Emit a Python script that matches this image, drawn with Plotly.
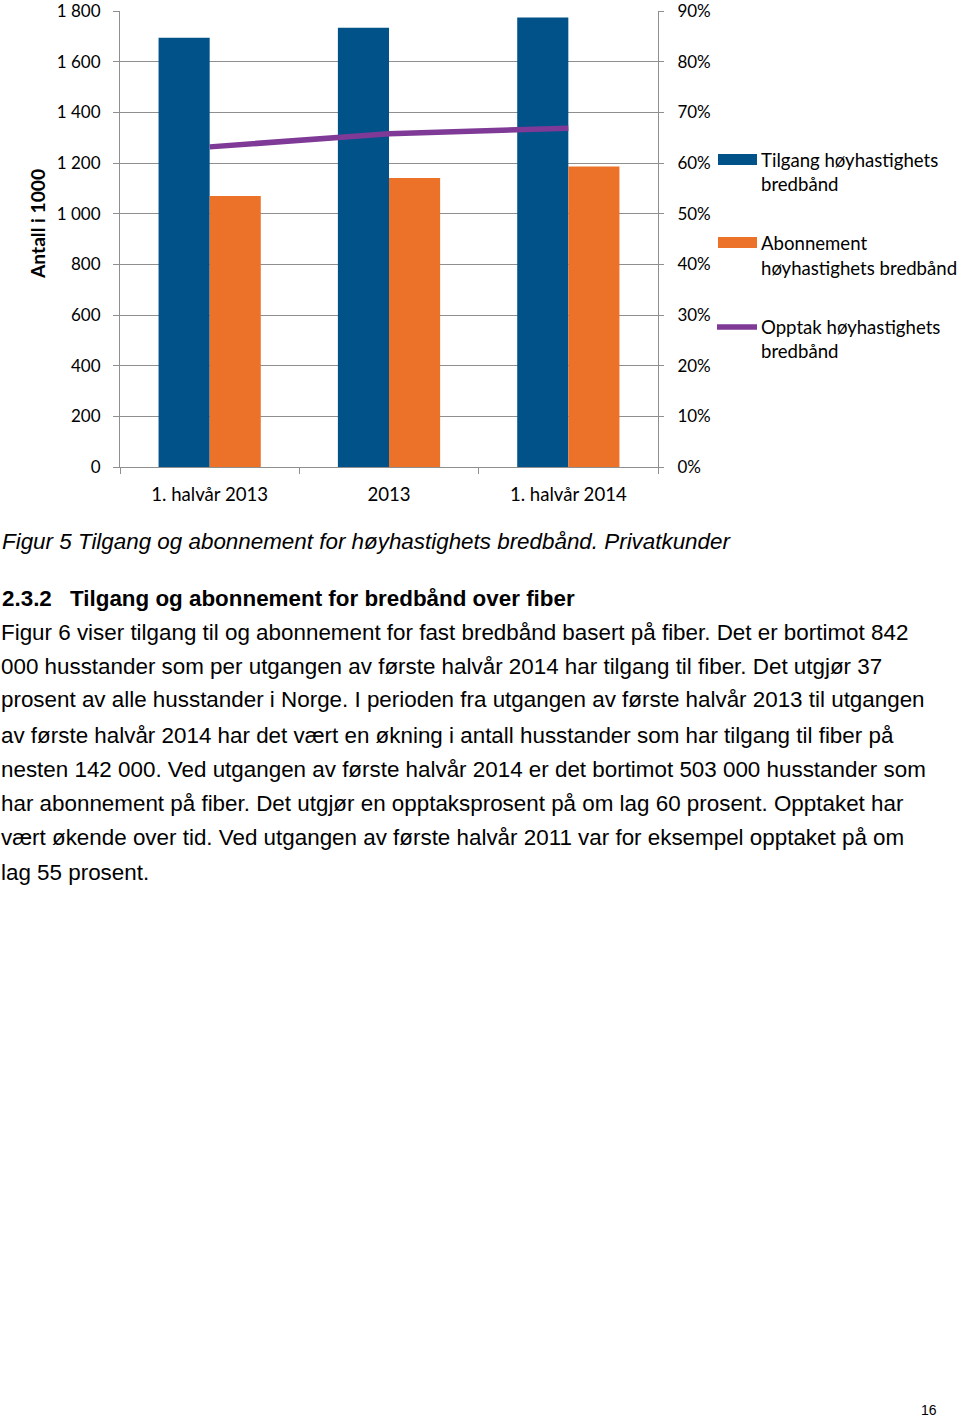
import plotly.graph_objects as go

categories = ["1. halvår 2013", "2013", "1. halvår 2014"]
tilgang = [1695, 1734, 1775]
abonnement = [1070, 1141, 1187]
opptak = [0.632, 0.658, 0.669]

series_names = ["Tilgang høyhastighets bredbånd",
                "Abonnement høyhastighets bredbånd",
                "Opptak høyhastighets bredbånd"]

BLUE = "#005289"
ORANGE = "#EC7229"
PURPLE = "#7E3A96"
GRID = "#8F8F8F"
CHART_FONT = "Lato"
BODY_FONT = "Liberation Sans"
CH = 18.6
TK = 17
BODY = 22.4

W, H = 960, 1420
PX0, PX1 = 120, 658
PY0, PY1 = 11, 467


def px(x):
    return (x - PX0) / (PX1 - PX0)


def py(y):
    return (PY1 - y) / (PY1 - PY0)


fig = go.Figure()
fig.add_trace(go.Bar(x=categories, y=tilgang, name=series_names[0],
                     marker=dict(color=BLUE, line=dict(width=0))))
fig.add_trace(go.Bar(x=categories, y=abonnement, name=series_names[1],
                     marker=dict(color=ORANGE, line=dict(width=0))))
fig.add_trace(go.Scatter(x=categories, y=opptak, name=series_names[2], yaxis="y2",
                         mode="lines", line=dict(color=PURPLE, width=5.5)))

annotations = []

# y-axis title
annotations.append(dict(x=px(38), y=py(224), xref="paper", yref="paper",
                        text="<b>Antall i 1000</b>", textangle=-90, showarrow=False,
                        font=dict(family=CHART_FONT, size=19.2, color="#000000"),
                        xanchor="center", yanchor="middle"))

# legend (manual)
legend_lines = [
    (160, "Tilgang høyhastighets"), (184, "bredbånd"),
    (243, "Abonnement"), (268, "høyhastighets bredbånd"),
    (327, "Opptak høyhastighets"), (351, "bredbånd"),
]
for y, t in legend_lines:
    annotations.append(dict(x=px(759), y=py(y), xref="paper", yref="paper", text=t,
                            showarrow=False, xanchor="left", yanchor="middle",
                            font=dict(family=CHART_FONT, size=CH, color="#000000")))

shapes = [
    dict(type="rect", xref="paper", yref="paper", x0=px(718), x1=px(757), y0=py(165), y1=py(154),
         fillcolor=BLUE, line=dict(width=0)),
    dict(type="rect", xref="paper", yref="paper", x0=px(718), x1=px(757), y0=py(248), y1=py(237),
         fillcolor=ORANGE, line=dict(width=0)),
    dict(type="line", xref="paper", yref="paper", x0=px(717), x1=px(757), y0=py(327), y1=py(327),
         line=dict(color=PURPLE, width=5.5)),
]

# caption
annotations.append(dict(x=px(0), y=py(541), xref="paper", yref="paper",
                        text="<i>Figur 5 Tilgang og abonnement for høyhastighets bredbånd. Privatkunder</i>",
                        showarrow=False, xanchor="left", yanchor="middle",
                        font=dict(family=BODY_FONT, size=BODY, color="#000000")))
# heading
annotations.append(dict(x=px(0), y=py(598), xref="paper", yref="paper", text="<b>2.3.2</b>",
                        showarrow=False, xanchor="left", yanchor="middle",
                        font=dict(family=BODY_FONT, size=BODY, color="#000000")))
annotations.append(dict(x=px(68), y=py(598), xref="paper", yref="paper",
                        text="<b>Tilgang og abonnement for bredbånd over fiber</b>",
                        showarrow=False, xanchor="left", yanchor="middle",
                        font=dict(family=BODY_FONT, size=BODY, color="#000000")))

body = [
    "Figur 6 viser tilgang til og abonnement for fast bredbånd basert på fiber. Det er bortimot 842",
    "000 husstander som per utgangen av første halvår 2014 har tilgang til fiber. Det utgjør 37",
    "prosent av alle husstander i Norge. I perioden fra utgangen av første halvår 2013 til utgangen",
    "av første halvår 2014 har det vært en økning i antall husstander som har tilgang til fiber på",
    "nesten 142 000. Ved utgangen av første halvår 2014 er det bortimot 503 000 husstander som",
    "har abonnement på fiber. Det utgjør en opptaksprosent på om lag 60 prosent. Opptaket har",
    "vært økende over tid. Ved utgangen av første halvår 2011 var for eksempel opptaket på om",
    "lag 55 prosent.",
]
body_y = [632, 666, 700, 735, 769, 803, 837, 872]
for y, t in zip(body_y, body):
    annotations.append(dict(x=px(-1), y=py(y), xref="paper", yref="paper", text=t,
                            showarrow=False, xanchor="left", yanchor="middle",
                            font=dict(family=BODY_FONT, size=BODY, color="#000000")))

annotations.append(dict(x=px(929), y=py(1410), xref="paper", yref="paper", text="16",
                        showarrow=False, xanchor="center", yanchor="middle",
                        font=dict(family=BODY_FONT, size=14, color="#000000")))

fig.update_layout(
    width=W, height=H,
    margin=dict(l=PX0, r=W - PX1, t=PY0, b=H - PY1, pad=0, autoexpand=False),
    paper_bgcolor="white", plot_bgcolor="white",
    barmode="group", bargap=0.43, bargroupgap=0,
    showlegend=False,
    separators=", ",
    font=dict(family=CHART_FONT, size=CH, color="#000000"),
    xaxis=dict(type="category", showline=True, linecolor=GRID, linewidth=1,
               ticks="outside", tickson="boundaries", ticklen=6, tickcolor=GRID,
               showgrid=False, tickfont=dict(size=CH), ticklabelstandoff=11,
               automargin=False),
    yaxis=dict(range=[0, 1800.5], tick0=0, dtick=200, tickformat=",d", showline=True,
               linecolor=GRID, linewidth=1, showgrid=True, gridcolor=GRID, gridwidth=1,
               ticks="outside", ticklen=6, tickcolor=GRID, zeroline=False,
               tickfont=dict(size=TK), ticklabelstandoff=9, ticklabeloverflow="allow",
               automargin=False),
    yaxis2=dict(range=[0, 0.90025], tick0=0, dtick=0.1, tickformat=".0%", overlaying="y",
                side="right", showline=True, linecolor=GRID, linewidth=1, showgrid=False,
                ticks="outside", ticklen=5, tickcolor=GRID, zeroline=False,
                tickfont=dict(size=TK), ticklabelstandoff=10, ticklabeloverflow="allow",
                automargin=False),
    annotations=annotations,
    shapes=shapes,
)

fig.write_html("out.html")
